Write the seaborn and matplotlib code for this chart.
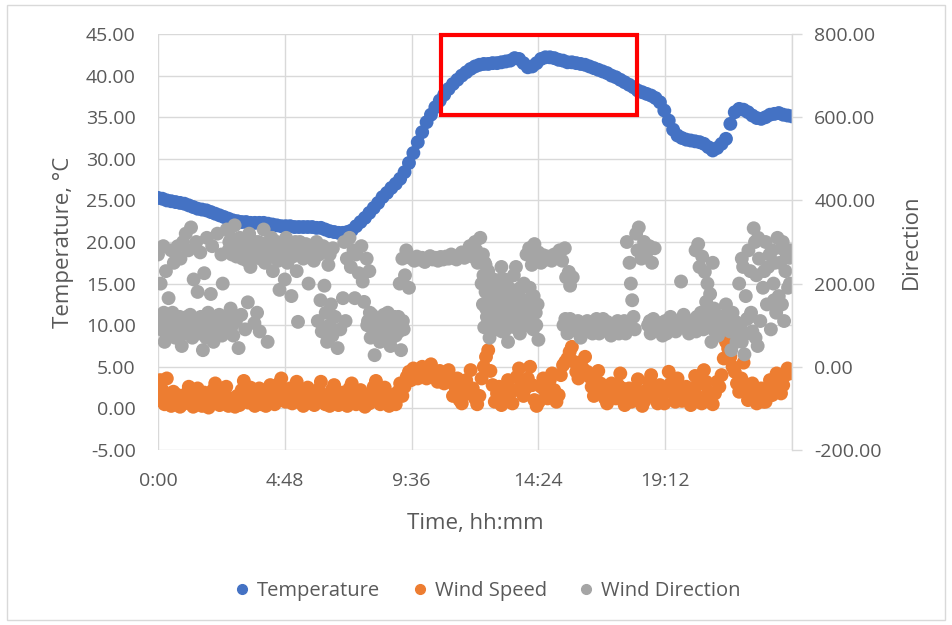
import numpy as np
import pandas as pd
import matplotlib
matplotlib.use("Agg")
import matplotlib.pyplot as plt
import seaborn as sns
from matplotlib.patches import Rectangle
from matplotlib.ticker import FixedLocator, FuncFormatter

sns.set_theme(style="white")
plt.rcParams['font.family'] = ['Open Sans', 'DejaVu Sans']

# ---------------- data ----------------
# Temperature every 10 min (hours 0..24)
temp_hours = np.arange(145) / 6.0
temperature = [
    25.3, 25.2, 25.0, 24.9, 24.8, 24.7,
    24.6, 24.4, 24.2, 24.0, 23.9, 23.8,
    23.6, 23.4, 23.2, 23.0, 22.8, 22.6,
    22.5, 22.4, 22.4, 22.3, 22.3, 22.3,
    22.3, 22.2, 22.1, 22.0, 21.9, 21.9,
    21.9, 21.8, 21.8, 21.8, 21.8, 21.8,
    21.7, 21.7, 21.5, 21.3, 21.2, 21.1,
    21.1, 21.2, 21.4, 21.9, 22.4, 22.9,
    23.5, 24.1, 24.7, 25.4, 25.9, 26.5,
    27.0, 27.6, 28.4, 29.5, 30.7, 32.0,
    33.2, 34.4, 35.3, 36.2, 37.0, 37.7,
    38.4, 39.0, 39.5, 40.0, 40.4, 40.8,
    41.1, 41.3, 41.4, 41.4, 41.5, 41.5,
    41.6, 41.7, 41.8, 42.1, 42.0, 41.5,
    41.0, 41.1, 41.5, 42.0, 42.2, 42.2,
    42.1, 41.9, 41.8, 41.6, 41.6, 41.5,
    41.4, 41.3, 41.1, 40.9, 40.7, 40.5,
    40.3, 40.0, 39.8, 39.5, 39.2, 38.9,
    38.6, 38.2, 38.0, 37.8, 37.6, 37.3,
    36.8, 35.8, 34.6, 33.5, 32.8, 32.5,
    32.3, 32.2, 32.1, 32.0, 31.8, 31.4,
    31.0, 31.3, 31.8, 32.4, 34.2, 35.6,
    36.0, 35.9, 35.6, 35.2, 34.9, 34.8,
    35.0, 35.3, 35.4, 35.5, 35.3, 35.2,
    35.1,
]

# Wind speed every 5 min (hours 0..24)
ws_hours = np.arange(289) / 12.0
wind_speed = [
    1.0, 3.4, 2.2, 0.5, 3.6, 1.2, 0.3, 2.0, 0.8, 1.6, 0.2, 1.1,
    0.6, 1.8, 2.6, 0.9, 0.2, 1.5, 2.4, 0.7, 0.3, 1.9, 0.5, 0.1,
    1.0, 2.2, 3.0, 1.4, 0.4, 2.0, 0.8, 2.6, 0.3, 1.2, 0.6, 0.2,
    1.5, 0.4, 2.2, 3.3, 1.8, 0.7, 2.5, 1.0, 0.3, 1.6, 2.4, 0.5,
    1.2, 0.3, 2.0, 2.8, 1.0, 0.5, 1.8, 3.0, 3.6, 2.2, 0.8, 1.5,
    2.4, 0.6, 1.7, 3.2, 2.0, 0.9, 0.3, 1.4, 2.5, 0.7, 1.2, 0.4,
    0.8, 2.3, 3.2, 1.6, 0.5, 1.1, 0.3, 2.2, 2.8, 1.0, 0.4, 1.5,
    1.9, 0.6, 0.3, 2.4, 3.0, 1.3, 0.5, 1.0, 2.2, 0.7, 0.2, 1.6,
    0.6, 1.4, 2.6, 3.3, 1.8, 0.5, 1.2, 2.5, 0.9, 0.3, 1.6, 1.0,
    0.5, 2.0, 3.0, 1.5, 2.6, 3.8, 4.4, 3.4, 4.8, 4.1, 3.6, 4.5,
    5.0, 4.2, 3.6, 4.8, 5.3, 4.4, 3.8, 3.2, 4.5, 3.9, 3.0, 4.2,
    4.6, 3.2, 1.5, 2.6, 3.6, 1.0, 0.6, 2.2, 3.4, 1.8, 4.6, 2.4,
    1.2, 0.5, 1.5, 3.6, 5.0, 6.2, 7.0, 4.5, 2.8, 0.8, 1.8, 2.6,
    0.4, 1.2, 2.6, 3.4, 1.8, 0.6, 2.2, 3.8, 4.8, 2.9, 1.5, 2.4,
    3.6, 5.0, 2.8, 1.0, 0.3, 0.8, 2.6, 3.6, 2.0, 1.2, 3.4, 4.2,
    2.2, 0.8, 1.6, 4.0, 5.2, 5.6, 6.0, 6.8, 7.4, 5.6, 4.4, 3.6,
    5.5, 4.8, 6.2, 4.4, 3.8, 2.6, 1.5, 3.2, 4.5, 3.0, 2.5, 1.2,
    0.6, 2.0, 3.0, 1.6, 1.2, 2.8, 4.2, 2.4, 0.4, 1.4, 2.4, 0.8,
    1.0, 2.4, 3.5, 1.8, 0.3, 0.9, 2.2, 3.2, 4.0, 2.6, 1.4, 0.6,
    2.8, 1.6, 0.6, 2.2, 4.4, 3.0, 1.8, 0.8, 3.6, 2.4, 0.9, 1.5,
    2.6, 1.0, 0.4, 2.0, 3.9, 2.8, 1.3, 0.6, 4.6, 3.2, 2.0, 1.0,
    0.5, 1.8, 3.2, 2.6, 4.0, 6.0, 8.0, 7.2, 6.2, 5.0, 4.4, 3.0,
    2.0, 3.6, 5.5, 2.8, 1.0, 2.2, 3.0, 1.4, 0.6, 1.6, 2.4, 0.8,
    0.8, 2.0, 3.4, 1.6, 2.6, 4.2, 3.0, 1.8, 2.8, 4.0, 4.8, 4.2,
    4.6,
]

# Wind direction samples (hour, degrees)
wd_hours = [
    0.0, 0.05, 0.1, 0.15, 0.2, 0.25, 0.3, 0.35, 0.4, 0.45, 0.5, 0.55, 0.6, 0.65, 0.7, 0.75, 0.8, 0.85, 0.9, 0.95,
    1.05, 1.1, 1.15, 1.2, 1.25, 1.3, 1.35, 1.45, 1.5, 1.55, 1.6, 1.7, 1.75, 1.8, 1.85, 1.9, 2.0, 2.05, 2.1, 2.2, 2.25, 2.3, 2.4, 2.45,
    2.6, 2.65, 2.7, 2.75, 2.8, 2.85, 2.9, 2.95, 3.0, 3.05, 3.1, 3.15, 3.2, 3.3, 3.35, 3.4, 3.45, 3.5, 3.6, 3.65, 3.7, 3.75, 3.8, 3.85, 3.9, 4.0, 4.05, 4.1, 4.15, 4.2, 4.3, 4.35, 4.4, 4.5, 4.55, 4.6, 4.65,
    4.75, 4.8, 4.85, 4.9, 5.0, 5.05, 5.1, 5.2, 5.25, 5.3, 5.4, 5.5, 5.6, 5.7, 5.75,
    5.85, 5.9, 6.0, 6.05, 6.1, 6.15, 6.2, 6.3, 6.35, 6.4, 6.45, 6.5, 6.55, 6.6, 6.7, 6.8, 6.9, 7.0, 7.1,
    7.05, 7.15, 7.25, 7.3, 7.4, 7.45, 7.5, 7.6, 7.7, 7.75, 7.8, 7.9, 8.0,
    7.95, 8.05, 8.1, 8.2, 8.3, 8.4, 8.5, 8.6, 8.7, 8.8, 8.9, 9.0, 9.1, 9.2, 9.3,
    9.15, 9.25, 9.35, 9.4, 9.5, 9.55, 9.7, 9.8, 9.9, 10.0, 10.1, 10.2, 10.3, 10.4, 10.5, 10.6, 10.7, 10.8, 10.9, 11.0, 11.1, 11.2, 11.3, 11.4, 11.5, 11.6, 11.7, 11.8, 11.9, 12.0, 12.05, 12.1, 12.2, 12.3, 12.4,
    12.25, 12.3, 12.35, 12.4, 12.45, 12.5, 12.55, 12.6, 12.65, 12.7, 12.75, 12.8, 12.85, 12.9, 13.0, 13.05, 13.1, 13.15, 13.2, 13.25, 13.3, 13.35, 13.4, 13.5, 13.55, 13.6, 13.65, 13.7, 13.8, 13.85, 13.9, 14.0, 14.1, 14.2, 14.3, 14.4,
    13.95, 14.05, 14.15, 14.25, 14.3, 14.4, 14.5, 14.6, 14.7, 14.8, 14.9, 15.0, 15.1, 15.2, 15.3, 15.4, 15.45, 15.55, 15.6, 15.7,
    15.35, 15.5, 15.6, 15.75, 15.9, 16.0, 16.1, 16.2, 16.35, 16.5, 16.6, 16.7, 16.8, 16.9, 17.0, 17.15, 17.3, 17.4, 17.5, 17.6, 17.7, 17.8,
    17.75, 17.85, 17.9, 17.95, 18.0, 18.05, 18.1, 18.15, 18.2, 18.3, 18.4, 18.5, 18.6, 18.7, 18.8,
    18.55, 18.65, 18.75, 18.85, 19.0, 19.1, 19.2, 19.3, 19.4, 19.5, 19.6, 19.7, 19.8, 19.85, 19.9, 20.0, 20.1, 20.2, 20.3, 20.4,
    20.35, 20.45, 20.5, 20.6, 20.7, 20.75, 20.8, 20.9, 21.0,
    20.55, 20.65, 20.85, 20.95, 21.05, 21.1, 21.2, 21.3, 21.4, 21.5, 21.6, 21.7, 21.75, 21.85, 21.95, 22.1, 22.2, 22.3, 22.5, 22.7,
    22.0, 22.15, 22.25, 22.35, 22.45, 22.55, 22.6, 22.65, 22.75, 22.8, 22.9, 23.0, 23.05, 23.1, 23.2, 23.25, 23.3, 23.4, 23.45, 23.5, 23.55, 23.6, 23.7, 23.75, 23.8, 23.85, 23.9, 23.95,
    # denser parts of the clusters
    0.02, 0.12, 0.22, 0.32, 0.42, 0.52, 0.62, 0.72, 0.82, 0.92, 1.02, 1.12, 1.22, 1.32, 1.42, 1.52, 1.62, 1.72, 1.82, 1.92, 2.02, 2.12, 2.22, 2.32, 2.42, 2.52, 2.62, 2.72, 2.82,
    2.67, 2.77, 2.87, 2.97, 3.07, 3.17, 3.27, 3.37, 3.47, 3.57, 3.67, 3.77, 3.87, 3.97, 4.07, 4.17, 4.27, 4.37, 4.47, 4.57, 4.67, 4.82, 5.02, 5.17, 5.37, 5.52,
    5.95, 6.25, 6.5, 6.62,
    7.92, 8.02, 8.15, 8.25, 8.35, 8.45, 8.55, 8.65, 8.75, 8.85, 8.95, 9.05, 9.12, 9.27,
    12.32, 12.42, 12.52, 12.62, 12.72, 12.82, 12.92, 13.02, 13.12, 13.22, 13.32, 13.42, 13.52, 13.62, 13.72, 13.82, 13.92, 14.02, 14.12, 14.22, 14.32,
    12.37, 12.57, 12.77, 12.97, 13.17, 13.47, 13.77, 14.07, 14.37,
    15.42, 15.57, 15.72, 15.87, 16.05, 16.25, 16.45, 16.65, 16.85, 17.05, 17.25, 17.45, 17.65,
    18.62, 18.82, 19.05, 19.25, 19.45, 19.65, 19.95, 20.15, 20.37,
    20.62, 20.82, 21.02, 21.15, 21.35, 21.55, 21.65, 21.82, 21.9, 22.05, 22.27, 22.4, 22.62,
    22.1, 22.42, 22.72, 23.15, 23.35, 23.65, 23.92, 23.62, 23.32, 22.95,
]
wind_direction = [
    270, 95, 200, 120, 290, 60, 230, 100, 165, 80, 280, 130, 250, 70, 110, 290, 85, 260, 50, 300,
    320, 120, 280, 95, 335, 70, 210, 300, 180, 105, 275, 40, 225, 85, 310, 130, 175, 290, 60, 110, 320, 90, 270, 200,
    330, 100, 300, 140, 270, 75, 340, 110, 285, 45, 310, 125, 260, 90, 295, 155, 320, 240, 285, 105, 265, 130, 300, 85, 275, 330, 250, 290, 60, 270, 310, 230, 280, 300, 255, 185, 270,
    290, 210, 310, 250, 280, 170, 265, 300, 230, 108, 285, 260, 295, 200, 275,
    290, 255, 300, 110, 270, 160, 85, 195, 130, 60, 245, 100, 150, 75, 120, 45, 90, 165, 110,
    300, 260, 310, 240, 280, 165, 270, 225, 290, 205, 156, 260, 230,
    110, 70, 125, 28, 95, 60, 115, 80, 130, 50, 100, 75, 120, 40, 90,
    200, 260, 220, 280, 190, 262, 255, 265, 258, 262, 252, 260, 266, 258, 262, 255, 264, 258, 265, 260, 270, 262, 258, 266, 275, 262, 270, 290, 265, 300, 280, 250, 310, 270, 245,
    200, 150, 95, 180, 120, 230, 70, 160, 110, 210, 140, 90, 190, 125, 240, 100, 170, 130, 205, 60, 150, 115, 185, 95, 240, 140, 175, 80, 120, 200, 150, 105, 165, 90, 130, 65,
    270, 285, 245, 295, 260, 275, 250, 268, 258, 265, 255, 270, 262, 280, 255, 285, 215, 228, 195, 215,
    100, 80, 115, 90, 110, 70, 100, 85, 105, 95, 115, 80, 100, 90, 108, 75, 95, 110, 90, 100, 80, 105,
    300, 250, 200, 160, 120, 90, 320, 280, 335, 260, 300, 275, 290, 250, 285,
    100, 80, 115, 95, 105, 75, 110, 90, 120, 100, 85, 110, 205, 95, 125, 100, 80, 110, 95, 120,
    280, 295, 240, 265, 228, 156, 200, 175, 250,
    130, 90, 110, 60, 140, 100, 75, 120, 90, 150, 110, 40, 130, 80, 105, 60, 30, 115, 85, 50,
    200, 240, 170, 280, 130, 333, 300, 220, 260, 110, 190, 300, 150, 240, 90, 280, 200, 130, 310, 170, 250, 285, 110, 230, 270, 190, 262, 280,
    # denser parts of the clusters
    110, 90, 130, 75, 105, 90, 115, 95, 120, 100, 80, 105, 125, 95, 110, 80, 120, 100, 70, 95, 115, 85, 100, 125, 75, 105, 90, 120, 100,
    280, 310, 295, 265, 280, 300, 275, 255, 290, 270, 300, 280, 260, 295, 275, 300, 265, 285, 270, 295, 280, 265, 290, 275, 300, 280,
    280, 290, 270, 285,
    100, 130, 90, 115, 80, 100, 125, 95, 110, 70, 120, 95, 85, 110,
    220, 140, 105, 200, 170, 130, 160, 85, 210, 150, 185, 130, 165, 110, 190, 155, 100, 140, 115, 170, 100,
    250, 180, 100, 210, 90, 220, 130, 190, 150,
    115, 95, 105, 85, 95, 110, 80, 100, 115, 90, 100, 80, 110,
    110, 90, 100, 80, 105, 95, 110, 95, 85,
    110, 130, 90, 120, 100, 130, 85, 110, 60, 95, 80, 120, 70,
    260, 230, 310, 270, 250, 300, 200, 150, 160, 230,
]

x_tick_hours = [0, 4.8, 9.6, 14.4, 19.2]
highlight_box = (10.71, 18.13, 35.3, 44.9)  # hours from/to, temperature from/to

# ---------------- styling ----------------
BLUE, ORANGE, GRAY = "#4472C4", "#ED7D31", "#A5A5A5"
TXT = "#595959"
GRID = "#D9D9D9"
TICK_FS, TITLE_FS, LEG_FS = 14, 16, 14.5

fig = plt.figure(figsize=(9.52, 6.25), dpi=100)
fig.patch.set_facecolor("white")
fig.add_artist(Rectangle((7 / 952, 1 - 620 / 625), 938 / 952, 615 / 625,
                         transform=fig.transFigure, fill=False,
                         edgecolor=GRID, linewidth=1.0))

ax = fig.add_axes([158 / 952, 1 - 450 / 625, 634 / 952, 416 / 625])
ax2 = ax.twinx()

df_t = pd.DataFrame({"h": temp_hours, "v": temperature})
df_ws = pd.DataFrame({"h": ws_hours, "v": wind_speed})
df_wd = pd.DataFrame({"h": wd_hours, "v": wind_direction})

ms = 100
sns.scatterplot(data=df_t, x="h", y="v", ax=ax, color=BLUE, s=ms, edgecolor="none", legend=False)
sns.scatterplot(data=df_ws, x="h", y="v", ax=ax, color=ORANGE, s=ms, edgecolor="none", legend=False)
sns.scatterplot(data=df_wd, x="h", y="v", ax=ax2, color=GRAY, s=ms, edgecolor="none", legend=False)

ax.set_xlim(0, 24)
ax.set_ylim(-5, 45)
ax2.set_ylim(-200, 800)

ax.set_yticks(np.arange(-5, 46, 5))
ax.yaxis.set_major_formatter(FuncFormatter(lambda v, p: f"{v:.2f}"))
ax2.set_yticks(np.arange(-200, 801, 200))
ax2.yaxis.set_major_formatter(FuncFormatter(lambda v, p: f"{v:.2f}"))

ax.xaxis.set_major_locator(FixedLocator(x_tick_hours))
ax.xaxis.set_major_formatter(FuncFormatter(
    lambda h, p: f"{int(h)}:{int(round((h % 1) * 60)):02d}"))

ax.grid(True, color=GRID, linewidth=1.0)
ax.axvline(24, color=GRID, linewidth=1.0)
ax.set_axisbelow(True)
for a in (ax, ax2):
    for s in a.spines.values():
        s.set_visible(False)
ax2.spines["right"].set_visible(True)
ax2.spines["right"].set_color(GRID)
ax2.spines["right"].set_linewidth(1.0)

ax.tick_params(axis="y", length=0, pad=16, labelsize=TICK_FS, labelcolor=TXT)
ax.tick_params(axis="x", length=0, pad=16, labelsize=TICK_FS, labelcolor=TXT)
ax2.tick_params(axis="y", length=7, width=1, color=GRID, pad=9, labelsize=TICK_FS, labelcolor=TXT)

ax.set_xlabel("Time, hh:mm", fontsize=TITLE_FS, color=TXT, va="center")
ax.set_ylabel("Temperature, °C", fontsize=TITLE_FS, color=TXT)
ax2.set_ylabel("Direction", fontsize=TITLE_FS, color=TXT)
ax.yaxis.set_label_coords(-0.133, 0.5)
ax2.yaxis.set_label_coords(1.172, 0.5)
ax.xaxis.set_label_coords(0.5, -0.176)

x0, x1, y0, y1 = highlight_box
ax.add_patch(Rectangle((x0, y0), x1 - x0, y1 - y0, fill=False,
                       edgecolor="#FF0000", linewidth=3.0, zorder=10, clip_on=False))

handles = [plt.Line2D([], [], marker="o", linestyle="", color=c, markersize=7)
           for c in (BLUE, ORANGE, GRAY)]
leg = fig.legend(handles, ["Temperature", "Wind Speed", "Wind Direction"],
                 loc="center", bbox_to_anchor=(488 / 952, 1 - 591 / 625), ncol=3,
                 frameon=False, fontsize=LEG_FS, handlelength=0.7,
                 handletextpad=0.4, columnspacing=1.6)
for t in leg.get_texts():
    t.set_color(TXT)

fig.savefig("out.png", dpi=100, facecolor="white")
